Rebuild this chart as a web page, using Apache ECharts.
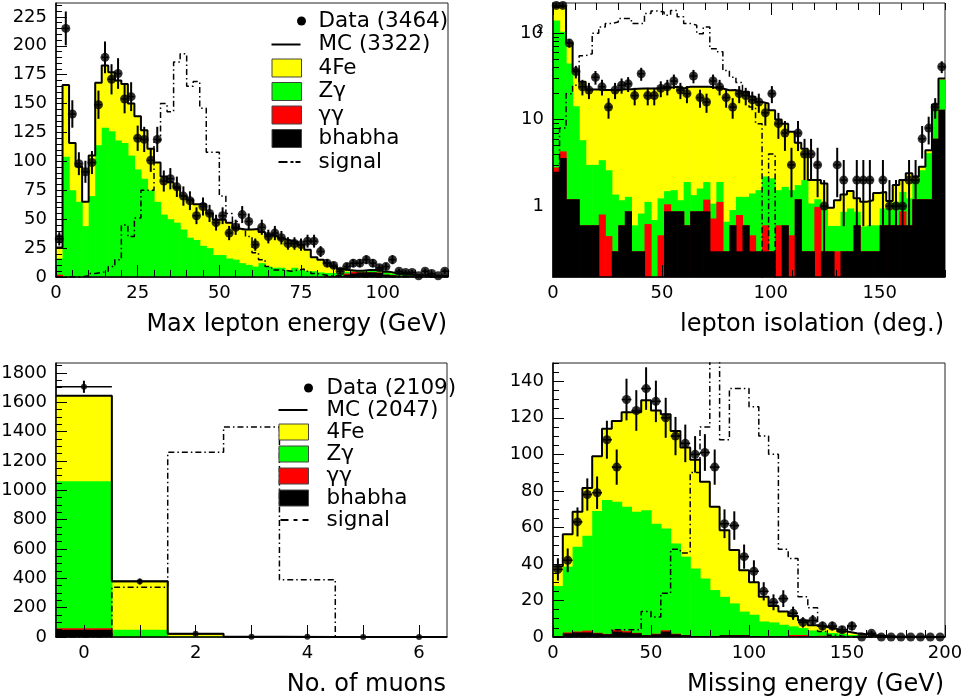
<!DOCTYPE html>
<html>
<head>
<meta charset="utf-8">
<title>Lepton selection variables</title>
<script src="https://cdn.jsdelivr.net/npm/echarts@6.0.0/dist/echarts.min.js"></script>
<style>
  html, body { margin: 0; padding: 0; background: #fff; }
  #main { width: 966px; height: 698px; }
</style>
</head>
<body>
<div id="main"></div>
<script>
var chartDom = document.getElementById('main');
var myChart = echarts.init(chartDom);
var option;

var FONT = 'DejaVu Sans';
var COL = { fe: '#ffff00', zg: '#00ff00', gg: '#ff0000', bh: '#000000' };

// ---- panel 1: max lepton energy, 60 bins of 2 GeV
var p1Bhabha = [0.5, 0, 0, 0, 0, 0, 0, 0, 0, 0,
    0, 0, 0, 0, 0, 0, 0, 0, 0, 0,
    0, 0, 0, 0, 0, 0, 0, 0, 0, 0,
    0, 0, 0, 0, 0, 0, 0, 0, 0, 0,
    0, 0.5, 0.5, 0.5, 2, 3, 4, 4, 4, 3.5,
    2, 1.5, 1, 1, 0.5, 0.5, 0.3, 0.3, 0.3, 0.2];
var p1Gg = [1.5, 0, 0, 0, 0, 0, 0, 0, 0, 0,
    0, 0, 0, 0, 0, 0, 0, 0, 0, 0,
    0, 0, 0, 0, 0, 0, 0, 0, 0, 0,
    0, 0, 0, 0, 0, 0, 0, 0, 0, 0,
    0, 0, 0, 0, 1, 1.5, 0, 0, 0, 0.5,
    0, 0, 0, 0, 0, 0, 0, 0, 0, 0];
var p1Zg = [14, 104, 75, 65, 44, 70, 114, 129, 126, 118,
    116, 105, 93, 85, 75, 65, 54, 50, 47, 41,
    34, 32, 27, 25, 19, 19, 16, 15, 12, 10.5,
    9, 12, 9, 8, 8, 6, 8, 6, 5, 5,
    4, 3, 3, 3, 1.5, 0.5, 1, 1, 1.5, 2,
    2, 1.5, 1.5, 1, 1, 1, 1, 0.7, 0.7, 0.8];
var p1Fe = [9.5, 62, 41, 30.5, 21, 35, 54, 54, 51, 52,
    51, 45, 46, 42, 36, 34, 33, 32, 30, 29,
    33, 31, 36, 30, 30.5, 30.5, 31, 27, 29, 30.5,
    32.5, 27, 27.5, 27, 25, 25.5, 22, 22, 18.5, 12,
    11, 8.5, 5.5, 3.5, 1.5, 0.5, 0.5, 1, 0.5, 1,
    0.5, 0.5, 0.5, 0.5, 0.5, 0, 0.2, 0, 0, 0];
var p1Data = [33, 215, 141, 98, 91, 99, 149, 190, 171, 176,
    154, 156, 120, 119, 101, 119, 83, 85, 78, 70,
    66, 53, 61, 55, 47, 53, 38, 43, 54, 48,
    28, 43, 35, 38, 34, 29, 29, 28, 31, 31,
    22, 12, 10, 5, 9, 12, 12, 15, 12, 8,
    9, 15, 5, 4, 4, 1, 5, 3, 1, 5];
var p1Signal = [0, 0, 0, 0, 1, 3, 4, 5, 9, 15,
    45, 35, 51, 75, 75, 118, 150, 143, 186, 193,
    165, 169, 146, 108, 108, 70, 55, 48, 41, 35,
    21, 15, 9, 6, 6, 5, 6, 7, 5, 3,
    2, 1, 1, 1, 0, 0, 0, 0, 0, 0,
    0, 0, 0, 0, 0, 0, 0, 0, 0, 0];

// ---- panel 2: lepton isolation, 60 bins of 3 deg (log scale)
var p2Bhabha = [2.5, 3.6, 1.2, 1.2, 0.6, 0.6, 0.6, 0, 0, 0.3,
    0.6, 0.87, 0.3, 0.3, 0, 0, 0, 0.87, 0.87, 0.87,
    0.6, 0.87, 0.87, 0.87, 0.3, 0.3, 0.3, 0.6, 0.3, 0.6,
    0.3, 0.3, 0.3, 0.3, 0, 0.6, 0, 1.2, 0.3, 0.3,
    0, 0.3, 0.3, 0, 0.3, 0.3, 0.6, 0.3, 0.3, 0.3,
    0.6, 0.6, 0.6, 0.6, 0.6, 1.2, 1.2, 1.2, 6, 13];
var p2Gg = [0.3, 0.7, 0, 0, 0, 0, 0, 0.8, 0.45, 0,
    0, 0, 0, 0, 0.62, 0, 0.46, 0.18, 0, 0,
    0, 0, 0, 0.32, 0.42, 0.82, 0, 0, 0.49, 0,
    0.16, 0, 0.3, 0, 0.6, 0, 0.46, 0, 0, 0,
    0.98, 0, 0, 0.3, 0, 0, 0, 0, 0, 0,
    0, 0, 0, 0.27, 0, 0, 0, 0, 0, 0];
var p2Zg = [138, 100, 43.5, 13.1, 5.2, 2.4, 2.4, 2.6, 2.15, 1.06,
    0.57, 0.41, 0.3, 0.52, 0.5, 0.69, 0.77, 0.44, 0.66, 0.3,
    1.3, 0.47, 0.73, 0.71, 0.35, 0.78, 0.36, 0.3, 0.49, 0.68,
    0.94, 1.23, 1.6, 1.8, 0.93, 1.07, 1.07, 0.55, 1.7, 0.77,
    0.22, 0.68, 0.29, 0.29, 0.56, 0.64, 0.26, 0.28, 0.3, 0.3,
    0.34, 0.3, 0.52, 0.59, 0.63, 0.8, 1.4, 2.9, 8, 16];
var p2Fe = [64, 101, 32.8, 23, 21.6, 19.3, 19.3, 18.6, 19.4, 20.6,
    21.3, 21.2, 22.2, 22.2, 21.9, 22.3, 22.3, 22, 22.5, 21.8,
    22.1, 22.7, 22.4, 22.1, 22.4, 21.1, 21.3, 21.1, 19.7, 19.7,
    17, 14.5, 13.2, 10.8, 8.5, 7.3, 5.7, 3.65, 2.6, 0.93,
    0.8, 0.85, 0.37, 0.58, 0.5, 0.56, 0.37, 0.54, 0.57, 0.82,
    0.52, 0.25, 0.63, 0.54, 1.17, 0.2, 0.25, 0.34, 1, 1];
var p2Data = [210, 210, 77, 36, 24, 22, 31, 24, 14, 22,
    25, 26, 19, 34, 19, 19, 23, 24, 28, 22,
    20, 32, 18, 16, 28, 24, 18, 14, 20, 19,
    17, 16, 12, 20, 9, 7, 3, 7, 4, 4,
    3, 1, 0, 3, 2, 0, 2, 2, 2, 0,
    2, 1, 1, 1, 2, 2, 6, 8, 14, 41];
var p2Signal = [2, 8, 20, 25, 55, 58, 100, 118, 130, 135,
    148, 148, 130, 130, 169, 181, 176, 162, 183, 155,
    130, 124, 99, 118, 66, 61, 37, 31, 27, 20,
    14, 9, 0, 4, 0, 0, 0, 0, 0, 0,
    0, 0, 0, 0, 0, 0, 0, 0, 0, 0,
    0, 0, 0, 0, 0, 0, 0, 0, 0, 0];

// ---- panel 3: number of muons, bins centred on 0..6
var p3Bhabha = [50, 0, 0, 0, 0, 0, 0];
var p3Gg = [9, 0, 0, 0, 0, 0, 0];
var p3Zg = [1002, 50, 4, 0.5, 0, 0, 0];
var p3Fe = [584, 330, 19, 0.5, 0, 0, 0];
var p3Data = [1706, 378, 23, 1, 1, 0, 0];
var p3Signal = [0, 340, 1259, 1432, 391, 0, 0];

// ---- panel 4: missing energy, 40 bins of 5 GeV
var p4Bhabha = [0.5, 2, 2.5, 2.5, 2, 1.5, 3, 2.5, 2, 1,
    1.5, 3, 1.5, 1, 0.5, 0.5, 0.5, 1, 1, 1,
    0.5, 0.3, 0.3, 0.3, 0.3, 0.3, 0.3, 0.2, 0.2, 0.2,
    0, 0, 0, 0, 0, 0, 0, 0, 0, 0];
var p4Gg = [0, 0.5, 0.5, 1, 0.3, 0.2, 1, 0.7, 0.3, 0,
    0.3, 0.7, 0.3, 0, 0, 0, 0, 0, 0, 0,
    0, 0, 0, 0, 0.8, 0.8, 0, 0.5, 0, 0,
    0, 0, 0, 0, 0, 0, 0, 0, 0, 0];
var p4Zg = [27.4, 36, 46.4, 51.9, 66.7, 73.3, 70, 68.1, 66.2, 68.4,
    60.2, 55.7, 49.4, 43, 37, 31.5, 25.2, 21, 17.4, 12.9,
    11.7, 8.2, 7.7, 6.4, 4.7, 3.8, 3.3, 2.3, 2, 1.6,
    1.1, 0.7, 0.4, 0.2, 0.1, 0.1, 0, 0, 0, 0];
var p4Fe = [10.9, 17.8, 19.1, 26.2, 30, 39, 44.3, 51.7, 54.5, 60.2,
    62, 62.6, 61.6, 59.7, 59.5, 53, 45.6, 36.5, 29.2, 22.7,
    17.8, 13.5, 9, 7.3, 5.7, 4.1, 2.9, 2.5, 2.3, 1.2,
    0.9, 0.8, 0.6, 0.3, 0.2, 0.1, 0.1, 0.1, 0, 0];
var p4Data = [37, 42, 63, 78, 79, 108, 93, 130, 124, 136,
    129, 120, 110, 106, 100, 101, 93, 62, 61, 44,
    36, 25, 19, 21, 13, 8, 9, 6, 6, 4,
    6, 0, 2, 0, 0, 0, 0, 0, 0, 0];
var p4Signal = [0, 0, 0, 0, 0, 1, 4, 4, 4, 14,
    11, 24, 48, 46, 90, 115, 200, 108, 136, 136,
    126, 110, 100, 48, 43, 22, 16, 3, 1, 0,
    0, 0, 0, 0, 0, 0, 0, 0, 0, 0];

// tick labels
var p1XLabels = [0, 25, 50, 75, 100];
var p1YLabels = [0, 25, 50, 75, 100, 125, 150, 175, 200, 225];
var p2XLabels = [0, 50, 100, 150];
var p2YLabels = [0, 1, 2]; // log10 of 1, 10, 100
var p3XLabels = [0, 2, 4, 6];
var p3YLabels = [0, 200, 400, 600, 800, 1000, 1200, 1400, 1600, 1800];
var p4XLabels = [0, 50, 100, 150, 200];
var p4YLabels = [0, 20, 40, 60, 80, 100, 120, 140];

var P2_YMIN = -0.82, P2_YMAX = 2.35;

function steps(a, b, s) {
    var r = [];
    for (var v = a; v <= b + 1e-9; v += s) r.push(+v.toFixed(6));
    return r;
}

function logMinor(lo, hi) {
    var r = [];
    for (var d = -1; d <= 2; d++) {
        for (var m = 1; m <= 9; m++) {
            var v = Math.log10(m * Math.pow(10, d));
            if (v >= lo && v <= hi) r.push(v);
        }
    }
    return r;
}

function plain(v) { return String(v); }

var xAxes = [], yAxes = [], series = [];

function addX(o) { xAxes.push(o); return xAxes.length - 1; }
function addY(o) { yAxes.push(o); return yAxes.length - 1; }

function mainX(g, min, max, labels, name) {
    return addX({
        type: 'value', gridIndex: g, min: min, max: max, position: 'bottom', z: 10,
        name: name, nameLocation: 'end', nameGap: -1,
        nameTextStyle: { fontFamily: FONT, fontSize: 24, color: '#000', align: 'right', verticalAlign: 'top', padding: [36, 0, 0, 0] },
        axisLine: { show: true, onZero: false, lineStyle: { color: '#000', width: 1.5 } },
        axisTick: { show: false },
        splitLine: { show: false },
        axisLabel: { customValues: labels, formatter: plain, margin: 7, color: '#000', fontFamily: FONT, fontSize: 18 }
    });
}

function mainY(g, min, max, labels, fmt, rich) {
    return addY({
        type: 'value', gridIndex: g, min: min, max: max, position: 'left', z: 10,
        axisLine: { show: true, onZero: false, lineStyle: { color: '#000', width: 1.5 } },
        axisTick: { show: false },
        splitLine: { show: false },
        axisLabel: { customValues: labels, formatter: fmt || plain, rich: rich, margin: 9, color: '#000', fontFamily: FONT, fontSize: 18 }
    });
}

function tickAxis(dim, g, min, max, pos, vals, len) {
    var o = {
        type: 'value', gridIndex: g, min: min, max: max, position: pos, z: 10,
        axisLine: { show: false, onZero: false },
        axisLabel: { show: false },
        splitLine: { show: false },
        axisTick: { show: true, inside: true, length: len, customValues: vals, lineStyle: { color: '#000', width: 1 } }
    };
    return dim === 'x' ? addX(o) : addY(o);
}

function renderBin(params, api) {
    var a = api.coord([api.value(0), api.value(3)]);
    var b = api.coord([api.value(1), api.value(2)]);
    var cs = params.coordSys;
    var r = echarts.graphic.clipRectByRect(
        { x: a[0], y: a[1], width: b[0] - a[0] + 0.6, height: b[1] - a[1] },
        { x: cs.x, y: cs.y, width: cs.width, height: cs.height });
    if (!r) return null;
    return { type: 'rect', shape: r, style: { fill: api.visual('color') } };
}

function renderErr(params, api) {
    var cs = params.coordSys;
    var xm = (api.value(0) + api.value(1)) / 2;
    var a = api.coord([api.value(0), api.value(2)]);
    var b = api.coord([api.value(1), api.value(2)]);
    var lo = api.coord([xm, api.value(3)]);
    var hi = api.coord([xm, api.value(4)]);
    var yTop = Math.max(hi[1], cs.y), yBot = Math.min(lo[1], cs.y + cs.height);
    return {
        type: 'group', children: [
            { type: 'line', shape: { x1: Math.max(a[0], cs.x), y1: a[1], x2: Math.min(b[0], cs.x + cs.width), y2: b[1] }, style: { stroke: '#000', lineWidth: 1.5 } },
            { type: 'line', shape: { x1: lo[0], y1: yBot, x2: lo[0], y2: yTop }, style: { stroke: '#000', lineWidth: 2 } }
        ]
    };
}

function toY(v, logY, floor) {
    if (!logY) return v;
    return v > 0 ? Math.log10(v) : floor;
}

function addPanel(p) {
    var n = p.data.length;
    var run = p.data.map(function () { return 0; });
    var tops = [];
    [p.bh, p.gg, p.zg, p.fe].forEach(function (l) {
        run = run.map(function (r, i) { return r + l[i]; });
        tops.push(run);
    });
    var floor = p.base - 1;
    // stacked fills, drawn from the top layer down
    [['4Fe', COL.fe, tops[3]], ['Zγ', COL.zg, tops[2]], ['γγ', COL.gg, tops[1]], ['bhabha', COL.bh, tops[0]]].forEach(function (f) {
        var d = [];
        f[2].forEach(function (t, i) {
            if (!(t > 0)) return;
            var y = toY(t, p.logY, floor);
            if (y <= p.base) return;
            d.push([p.x0 + i * p.w, p.x0 + (i + 1) * p.w, p.base, y]);
        });
        series.push({
            type: 'custom', name: f[0], xAxisIndex: p.xi, yAxisIndex: p.yi,
            renderItem: renderBin, itemStyle: { color: f[1] }, data: d,
            encode: { x: [0, 1], y: [2, 3] }, z: 2, silent: true
        });
    });
    function stepData(vals) {
        var d = vals.map(function (v, i) { return [p.x0 + i * p.w, toY(v, p.logY, floor)]; });
        d.push([p.x0 + n * p.w, toY(vals[n - 1], p.logY, floor)]);
        return d;
    }
    series.push({
        type: 'line', name: p.mcName, xAxisIndex: p.xi, yAxisIndex: p.yi, step: 'end',
        data: stepData(tops[3]), symbol: 'none', z: 3,
        itemStyle: { color: '#000' }, lineStyle: { color: '#000', width: 2 }
    });
    series.push({
        type: 'line', name: 'signal', xAxisIndex: p.xi, yAxisIndex: p.yi, step: 'end',
        data: stepData(p.signal), symbol: 'none', z: 3,
        itemStyle: { color: '#000' }, lineStyle: { color: '#000', width: 1.5, type: [6, 3, 1.5, 3] }
    });
    var err = [], pts = [];
    p.data.forEach(function (v, i) {
        if (p.logY && v <= 0) return;
        var e = Math.sqrt(v);
        err.push([p.x0 + i * p.w, p.x0 + (i + 1) * p.w, toY(v, p.logY, floor),
            toY(Math.max(v - e, 0), p.logY, floor), toY(v + e, p.logY, floor)]);
        pts.push([p.x0 + (i + 0.5) * p.w, toY(v, p.logY, floor)]);
    });
    series.push({
        type: 'custom', name: p.dataName, xAxisIndex: p.xi, yAxisIndex: p.yi,
        renderItem: renderErr, data: err, itemStyle: { color: '#000' },
        encode: { x: [0, 1], y: [2, 3, 4] }, z: 4, silent: true
    });
    series.push({
        type: 'scatter', name: p.dataName, xAxisIndex: p.xi, yAxisIndex: p.yi,
        data: pts, symbol: 'circle', symbolSize: p.symbolSize, z: 5,
        itemStyle: { color: '#000' }
    });
}

// ---- axes
var x1 = mainX(0, 0, 120, p1XLabels, 'Max lepton energy (GeV)');
tickAxis('x', 0, 0, 120, 'bottom', steps(0, 120, 5), 7);
tickAxis('x', 0, 0, 120, 'bottom', p1XLabels, 12);
var y1 = mainY(0, 0, 237, p1YLabels);
tickAxis('y', 0, 0, 237, 'left', steps(0, 235, 5), 6);
tickAxis('y', 0, 0, 237, 'left', p1YLabels, 11);

var x2 = mainX(1, 0, 180, p2XLabels, 'lepton isolation (deg.)');
tickAxis('x', 1, 0, 180, 'bottom', steps(0, 180, 10), 7);
tickAxis('x', 1, 0, 180, 'bottom', p2XLabels, 12);
tickAxis('x', 1, 0, 180, 'top', steps(0, 180, 10), 7);
tickAxis('x', 1, 0, 180, 'top', p2XLabels, 12);
var y2 = mainY(1, P2_YMIN, P2_YMAX, p2YLabels, function (v) {
    return v === 0 ? '1' : v === 1 ? '10' : '{b|10}{s|2}';
}, {
    b: { fontFamily: FONT, fontSize: 18, color: '#000' },
    s: { fontFamily: FONT, fontSize: 12, color: '#000', verticalAlign: 'top', width: 1 }
});
tickAxis('y', 1, P2_YMIN, P2_YMAX, 'left', logMinor(P2_YMIN, P2_YMAX), 6);
tickAxis('y', 1, P2_YMIN, P2_YMAX, 'left', p2YLabels, 11);

var x3 = mainX(2, -0.5, 6.5, p3XLabels, 'No. of muons');
tickAxis('x', 2, -0.5, 6.5, 'bottom', steps(0, 6, 1), 12);
var y3 = mainY(2, 0, 1868, p3YLabels);
tickAxis('y', 2, 0, 1868, 'left', steps(0, 1850, 50), 6);
tickAxis('y', 2, 0, 1868, 'left', p3YLabels, 11);

var x4 = mainX(3, 0, 200, p4XLabels, 'Missing energy (GeV)');
tickAxis('x', 3, 0, 200, 'bottom', steps(0, 200, 10), 7);
tickAxis('x', 3, 0, 200, 'bottom', p4XLabels, 12);
var y4 = mainY(3, 0, 150, p4YLabels);
tickAxis('y', 3, 0, 150, 'left', steps(0, 150, 5), 6);
tickAxis('y', 3, 0, 150, 'left', p4YLabels, 11);

// ---- series
addPanel({ x0: 0, w: 2, bh: p1Bhabha, gg: p1Gg, zg: p1Zg, fe: p1Fe, data: p1Data, signal: p1Signal,
    xi: x1, yi: y1, logY: false, base: 0, dataName: 'Data (3464)', mcName: 'MC (3322)', symbolSize: 9 });
addPanel({ x0: 0, w: 3, bh: p2Bhabha, gg: p2Gg, zg: p2Zg, fe: p2Fe, data: p2Data, signal: p2Signal,
    xi: x2, yi: y2, logY: true, base: P2_YMIN, dataName: 'Data (3464)', mcName: 'MC (3322)', symbolSize: 9 });
addPanel({ x0: -0.5, w: 1, bh: p3Bhabha, gg: p3Gg, zg: p3Zg, fe: p3Fe, data: p3Data, signal: p3Signal,
    xi: x3, yi: y3, logY: false, base: 0, dataName: 'Data (2109)', mcName: 'MC (2047)', symbolSize: 6 });
addPanel({ x0: 0, w: 5, bh: p4Bhabha, gg: p4Gg, zg: p4Zg, fe: p4Fe, data: p4Data, signal: p4Signal,
    xi: x4, yi: y4, logY: false, base: 0, dataName: 'Data (2109)', mcName: 'MC (2047)', symbolSize: 9 });

// ---- legends
function legendIcons(h, dash) {
    var b = 'path://M0,0M35,' + h + 'M';
    var m = h / 2;
    var d = dash.map(function (s) {
        return 'M' + s[0] + ',' + (m - 1) + 'L' + s[1] + ',' + (m - 1) + 'L' + s[1] + ',' + (m + 1) + 'L' + s[0] + ',' + (m + 1) + 'Z';
    }).join('');
    return {
        data: b + '34.5,' + m + 'A4.5,4.5,0,1,1,25.5,' + m + 'A4.5,4.5,0,1,1,34.5,' + m + 'Z',
        line: b + '0,' + (m - 1) + 'L29,' + (m - 1) + 'L29,' + (m + 1) + 'L0,' + (m + 1) + 'Z',
        box: b + '0.5,0.5L30,0.5L30,' + (h - 0.5) + 'L0.5,' + (h - 0.5) + 'Z',
        dash: 'path://M0,0M35,' + h + d
    };
}

function legendData(ic, dataName, mcName) {
    return [
        { name: dataName, icon: ic.data, itemStyle: { color: '#000', borderWidth: 0 } },
        { name: mcName, icon: ic.line, itemStyle: { color: '#000', borderWidth: 0 } },
        { name: '4Fe', icon: ic.box, itemStyle: { color: COL.fe, borderColor: '#444', borderWidth: 1 } },
        { name: 'Zγ', icon: ic.box, itemStyle: { color: COL.zg, borderColor: '#444', borderWidth: 1 } },
        { name: 'γγ', icon: ic.box, itemStyle: { color: COL.gg, borderColor: '#444', borderWidth: 1 } },
        { name: 'bhabha', icon: ic.box, itemStyle: { color: COL.bh, borderColor: '#444', borderWidth: 1 } },
        { name: 'signal', icon: ic.dash, itemStyle: { color: '#000', borderWidth: 0 } }
    ];
}

var ic1 = legendIcons(19, [[7, 16], [19, 22], [24, 29]]);
var ic3 = legendIcons(17, [[2, 10], [15, 19], [24, 30]]);

option = {
    animation: false,
    backgroundColor: '#fff',
    grid: [
        { left: 56, top: 3, width: 392, height: 274 },
        { left: 553, top: 3, width: 392, height: 274 },
        { left: 56, top: 363, width: 391, height: 274 },
        { left: 553, top: 363, width: 392, height: 274 }
    ].map(function (g) {
        g.show = true;
        g.borderColor = '#222';
        g.borderWidth = 1;
        g.backgroundColor = 'transparent';
        g.containLabel = false;
        g.outerBoundsMode = 'none';
        return g;
    }),
    legend: [{
        orient: 'vertical', left: 271, top: 9.5, padding: 0, itemGap: 0.5,
        itemWidth: 35, itemHeight: 19,
        textStyle: { fontFamily: FONT, fontSize: 21.5, color: '#000', lineHeight: 23, padding: [0, 0, 0, 7] },
        data: legendData(ic1, 'Data (3464)', 'MC (3322)')
    }, {
        orient: 'vertical', left: 278, top: 377, padding: 0, itemGap: 0,
        itemWidth: 35, itemHeight: 17,
        textStyle: { fontFamily: FONT, fontSize: 21.5, color: '#000', lineHeight: 22, padding: [0, 0, 0, 8] },
        data: legendData(ic3, 'Data (2109)', 'MC (2047)')
    }],
    xAxis: xAxes,
    yAxis: yAxes,
    series: series
};

option && myChart.setOption(option);
</script>
</body>
</html>
